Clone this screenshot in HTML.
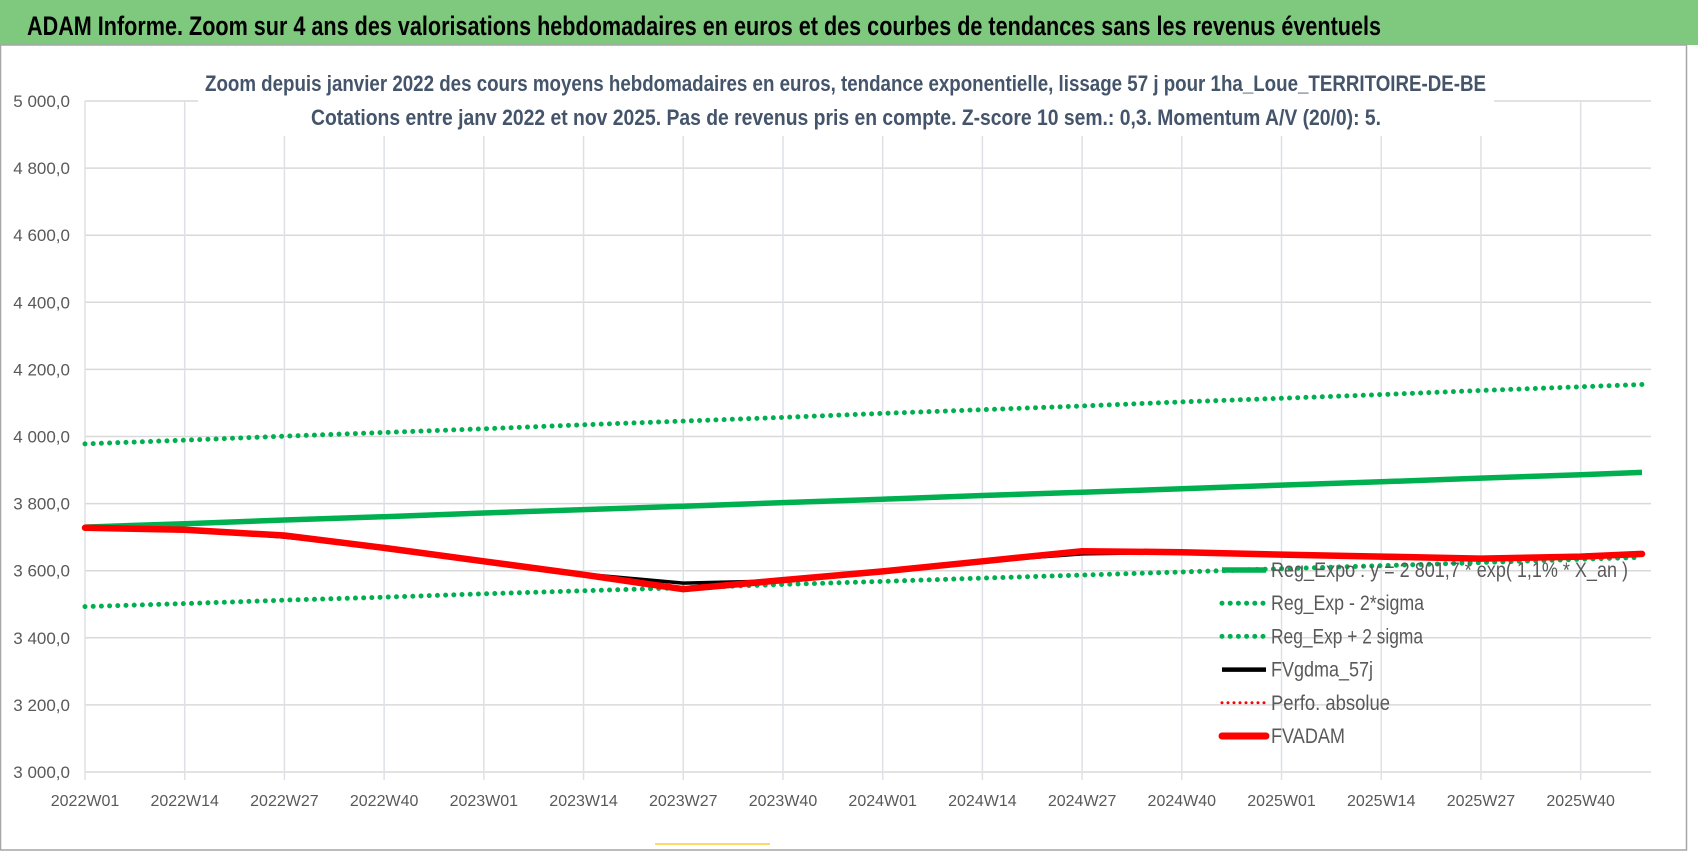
<!DOCTYPE html>
<html><head><meta charset="utf-8"><style>
html,body{margin:0;padding:0;background:#fff;}
svg{display:block;font-family:"Liberation Sans Narrow","Liberation Sans",sans-serif;}
</style></head><body>
<svg id="chart" width="1698" height="857" viewBox="0 0 1698 857">
<rect x="0" y="0" width="1698" height="857" fill="#fff"/>
<rect x="0" y="0" width="1698" height="45" fill="#7fc97f"/>
<rect x="0.5" y="45" width="1686" height="805" fill="none" stroke="#a6a6a6" stroke-width="1.5"/>
<text x="27" y="35" font-size="27" font-weight="bold" fill="#000" textLength="1354" lengthAdjust="spacingAndGlyphs">ADAM Informe. Zoom sur 4 ans des valorisations hebdomadaires en euros et des courbes de tendances sans les revenus éventuels</text>
<g id="grid"></g>
<rect x="198" y="60" width="1296" height="76" fill="#fff"/>
<text x="205" y="91" font-size="22" font-weight="bold" fill="#44546a" textLength="1281" lengthAdjust="spacingAndGlyphs">Zoom depuis janvier 2022 des cours moyens hebdomadaires en euros, tendance exponentielle, lissage 57 j pour 1ha_Loue_TERRITOIRE-DE-BE</text>
<text x="311" y="125" font-size="22" font-weight="bold" fill="#44546a" textLength="1070" lengthAdjust="spacingAndGlyphs">Cotations entre janv 2022 et nov 2025. Pas de revenus pris en compte. Z-score 10 sem.: 0,3. Momentum A/V (20/0): 5.</text>
<g id="axes"></g>
<g id="series"></g>
<g id="legend"></g>
<rect x="655" y="843" width="115" height="2" fill="#ffd966"/>
</svg>
<script>
const xLabels=["2022W01","2022W14","2022W27","2022W40","2023W01","2023W14","2023W27","2023W40","2024W01","2024W14","2024W27","2024W40","2025W01","2025W14","2025W27","2025W40"];
const yTicks=[3000,3200,3400,3600,3800,4000,4200,4400,4600,4800,5000];
const weekIdx=[0,13,26,39,52,65,78,91,104,117,130,143,156,169,182,195,203];
const regExpo=[3730,3740,3751,3761,3772,3782,3792,3803,3813,3824,3834,3844,3855,3865,3876,3886,3893];
const regLow=[3493,3502,3512,3521,3531,3540,3549,3559,3568,3578,3587,3596,3606,3615,3624,3634,3640];
const regHigh=[3978,3989,4001,4012,4023,4035,4046,4057,4069,4080,4091,4103,4114,4125,4137,4148,4155];
const fvgdma=[3728,3723,3700,3668,3628,3590,3563,3570,3598,3628,3650,3655,3648,3642,3636,3642,3650];
const fvadam=[3728,3722,3705,3668,3628,3588,3545,3572,3598,3628,3658,3655,3648,3642,3636,3642,3650];

const NS="http://www.w3.org/2000/svg";
const X0=85,WK=7.67,YT=101,YB=772,VMIN=3000,VMAX=5000,XR=1651;
const xs=i=>X0+i*WK;
const ys=v=>YB-(v-VMIN)/(VMAX-VMIN)*(YB-YT);
function mk(tag,attrs,parent){const e=document.createElementNS(NS,tag);for(const k in attrs)e.setAttribute(k,attrs[k]);parent.appendChild(e);return e;}
const grid=document.getElementById('grid'),axes=document.getElementById('axes'),series=document.getElementById('series'),legend=document.getElementById('legend');
yTicks.forEach(v=>{
  const l=mk('line',{x1:X0,x2:XR,y1:ys(v),y2:ys(v),stroke:'#d9d9d9','stroke-width':1.5},grid);
  
  
  const t=mk('text',{x:70,y:ys(v)+6,'font-size':17,fill:'#595959','text-anchor':'end'},axes);
  t.textContent=v.toLocaleString('fr-FR').replace(/\u202f|\u00a0/g,' ')+',0';
  
  
});
xLabels.forEach((s,k)=>{
  const x=xs(k*13);
  const l=mk('line',{x1:x,x2:x,y1:YT,y2:YB+8,stroke:'#dde1e6','stroke-width':1.5},grid);
  
  
  const t=mk('text',{x:x,y:806,'font-size':16,fill:'#595959','text-anchor':'middle'},axes);
  t.textContent=s;
  
  
});
function path(vals){return vals.map((v,i)=>(i?'L':'M')+xs(weekIdx[i]).toFixed(1)+','+ys(v).toFixed(1)).join(' ');}
const dotted={stroke:'#00b050','stroke-width':5,'stroke-linecap':'round','stroke-dasharray':'0 8.2',fill:'none'};
let p;
p=mk('path',Object.assign({d:path(regHigh)},dotted),series);


p=mk('path',Object.assign({d:path(regLow)},dotted),series);


p=mk('path',{d:path(regExpo),stroke:'#00b050','stroke-width':5.5,fill:'none'},series);


p=mk('path',{d:path(fvgdma),stroke:'#000','stroke-width':3.5,fill:'none','stroke-linejoin':'round'},series);


p=mk('path',{d:path(fvadam),stroke:'#ff0000','stroke-width':6.5,fill:'none','stroke-linejoin':'round','stroke-linecap':'round'},series);


const legItems=[
 ["Reg_Expo : y = 2 801,7 * exp( 1,1% *  X_an )",357,{stroke:'#00b050','stroke-width':5.5}],
 ["Reg_Exp - 2*sigma",153,{stroke:'#00b050','stroke-width':5,'stroke-linecap':'round','stroke-dasharray':'0 8.2'}],
 ["Reg_Exp + 2 sigma",152,{stroke:'#00b050','stroke-width':5,'stroke-linecap':'round','stroke-dasharray':'0 8.2'}],
 ["FVgdma_57j",102,{stroke:'#000','stroke-width':4.5}],
 ["Perfo. absolue",119,{stroke:'#ff0000','stroke-width':3,'stroke-linecap':'round','stroke-dasharray':'0 6'}],
 ["FVADAM",74,{stroke:'#ff0000','stroke-width':7,'stroke-linecap':'round'}]
];
legItems.forEach((it,k)=>{
  const y=570+k*33.2;
  const g=mk('g',{},legend);
  
  
  mk('line',Object.assign({x1:1222,x2:1266,y1:y,y2:y},it[2]),g);
  const t=mk('text',{x:1271,y:y+7,'font-size':21,fill:'#595959',textLength:it[1],lengthAdjust:'spacingAndGlyphs'},g);
  t.textContent=it[0];
});
</script>
</body></html>
